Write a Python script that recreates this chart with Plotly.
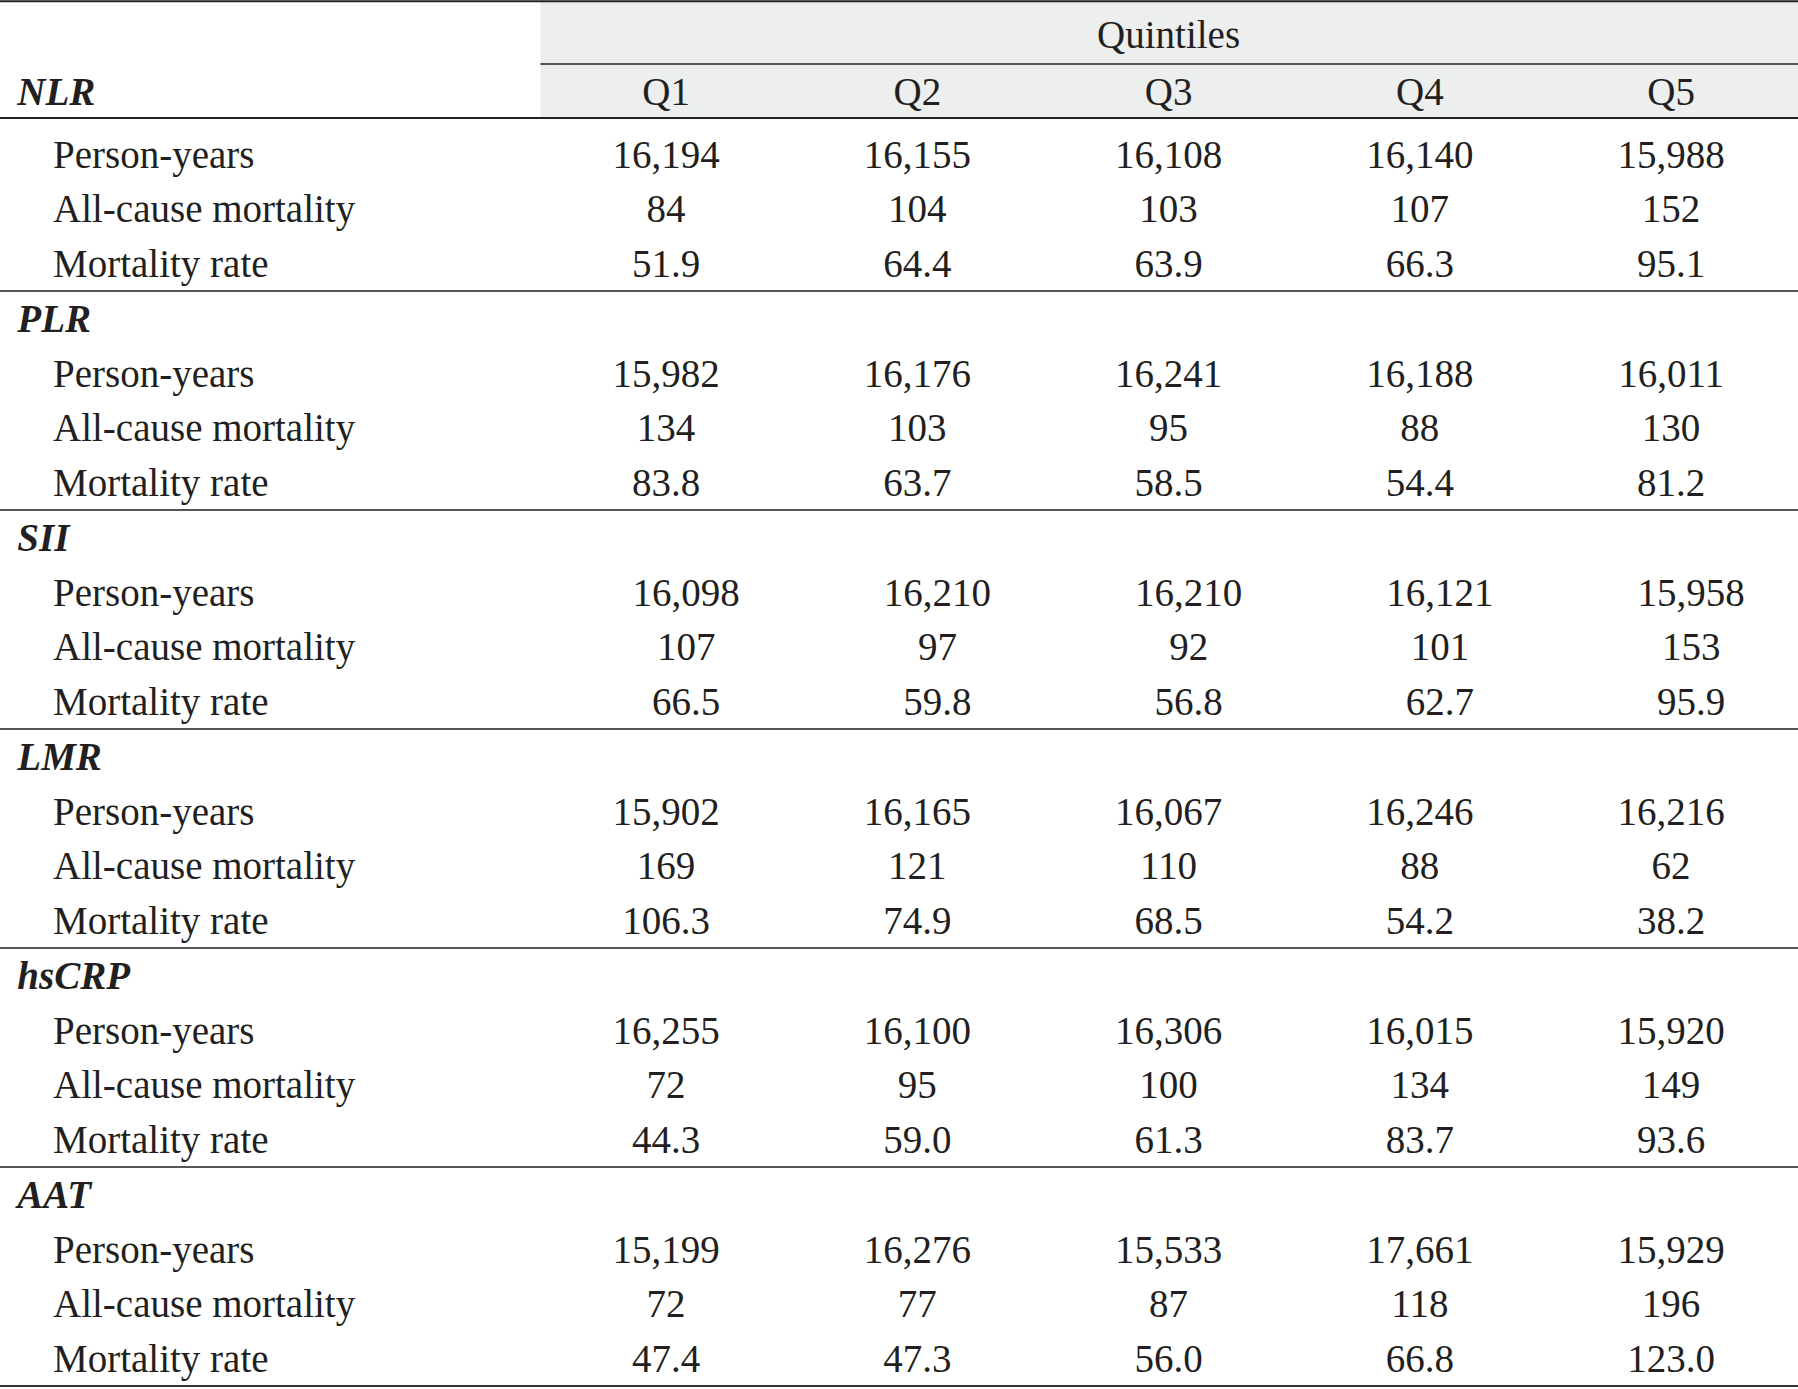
import plotly.graph_objects as go

# --- table data ---
quintiles = ["Q1", "Q2", "Q3", "Q4", "Q5"]
markers = ["NLR", "PLR", "SII", "LMR", "hsCRP", "AAT"]
row_labels = ["Person-years", "All-cause mortality", "Mortality rate"]

person_years = {
    "NLR": ["16,194", "16,155", "16,108", "16,140", "15,988"],
    "PLR": ["15,982", "16,176", "16,241", "16,188", "16,011"],
    "SII": ["16,098", "16,210", "16,210", "16,121", "15,958"],
    "LMR": ["15,902", "16,165", "16,067", "16,246", "16,216"],
    "hsCRP": ["16,255", "16,100", "16,306", "16,015", "15,920"],
    "AAT": ["15,199", "16,276", "15,533", "17,661", "15,929"],
}
all_cause = {
    "NLR": ["84", "104", "103", "107", "152"],
    "PLR": ["134", "103", "95", "88", "130"],
    "SII": ["107", "97", "92", "101", "153"],
    "LMR": ["169", "121", "110", "88", "62"],
    "hsCRP": ["72", "95", "100", "134", "149"],
    "AAT": ["72", "77", "87", "118", "196"],
}
mort_rate = {
    "NLR": ["51.9", "64.4", "63.9", "66.3", "95.1"],
    "PLR": ["83.8", "63.7", "58.5", "54.4", "81.2"],
    "SII": ["66.5", "59.8", "56.8", "62.7", "95.9"],
    "LMR": ["106.3", "74.9", "68.5", "54.2", "38.2"],
    "hsCRP": ["44.3", "59.0", "61.3", "83.7", "93.6"],
    "AAT": ["47.4", "47.3", "56.0", "66.8", "123.0"],
}

FONT = "Liberation Serif"
TXT = "#231f20"
SIZE = 39
DY = 0.07  # nudge text down a touch inside each row

fig = go.Figure()

# body cells: columns 1..5, rows counted downward from 1 (header row)
col_shift = {"SII": 0.08}  # SII numbers sit a bit to the right in the source
cell_x, cell_y, cell_t = [], [], []
lab_x, lab_y, lab_t = [], [], []
grp_y, grp_t = [], []
for g, m in enumerate(markers):
    base = 1 + 4 * g
    if g > 0:
        grp_y.append(base + DY)
        grp_t.append("<b><i>%s</i></b>" % m)
    for r, vals in enumerate([person_years[m], all_cause[m], mort_rate[m]]):
        y = base + 1 + r + DY
        lab_x.append(-1.44)
        lab_y.append(y)
        lab_t.append(row_labels[r])
        for c, v in enumerate(vals):
            cell_x.append(c + 1 + col_shift.get(m, 0))
            cell_y.append(y)
            cell_t.append(v)

fig.add_trace(go.Scatter(x=cell_x, y=cell_y, text=cell_t, mode="text",
                         textposition="middle center",
                         textfont=dict(family=FONT, size=SIZE, color=TXT)))
fig.add_trace(go.Scatter(x=lab_x, y=lab_y, text=lab_t, mode="text",
                         textposition="middle right",
                         textfont=dict(family=FONT, size=SIZE, color=TXT)))
fig.add_trace(go.Scatter(x=[-1.582] * len(grp_y), y=grp_y, text=grp_t, mode="text",
                         textposition="middle right",
                         textfont=dict(family=FONT, size=SIZE, color=TXT)))

# header
hdr_y = 0.92
fig.add_trace(go.Scatter(x=list(range(1, 6)), y=[hdr_y] * 5, text=quintiles, mode="text",
                         textposition="middle center",
                         textfont=dict(family=FONT, size=SIZE, color=TXT)))
fig.add_trace(go.Scatter(x=[-1.582], y=[hdr_y], text=["<b><i>NLR</i></b>"], mode="text",
                         textposition="middle right",
                         textfont=dict(family=FONT, size=SIZE, color=TXT)))
fig.add_trace(go.Scatter(x=[3], y=[-0.12], text=["Quintiles"], mode="text",
                         textposition="middle center",
                         textfont=dict(family=FONT, size=SIZE, color=TXT)))

x0, x1 = -1.651, 5.505
shapes = [
    dict(type="rect", x0=0.5, x1=x1, y0=-0.8, y1=1.34, fillcolor="#edeeee",
         line_width=0, layer="below"),
    dict(type="line", x0=x0, x1=x1, y0=-0.79, y1=-0.79, line=dict(color="#222", width=2)),
    dict(type="line", x0=0.5, x1=x1, y0=0.355, y1=0.355, line=dict(color="#555", width=2)),
    dict(type="line", x0=x0, x1=x1, y0=1.34, y1=1.34, line=dict(color="#222", width=2)),
]
for k in range(1, len(markers) + 1):
    yl = 0.5 + 4 * k
    shapes.append(dict(type="line", x0=x0, x1=x1, y0=yl, y1=yl,
                       line=dict(color="#555" if k < len(markers) else "#333", width=2)))

fig.update_layout(
    width=1798, height=1389,
    margin=dict(l=0, r=0, t=0, b=0),
    paper_bgcolor="white", plot_bgcolor="white",
    showlegend=False,
    hovermode=False,
    shapes=shapes,
    xaxis=dict(range=[x0, x1], visible=False, fixedrange=True),
    yaxis=dict(range=[24.555, -0.815], visible=False, fixedrange=True),
)

# drop the browser's default 8px body margin so the figure sits at the page corner
fig.write_html("out.html", config={"displayModeBar": False},
               post_script="document.body.style.margin='0';")
